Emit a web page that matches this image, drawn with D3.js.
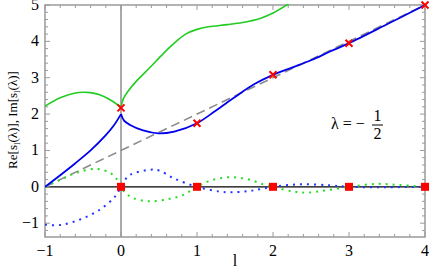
<!DOCTYPE html>
<html>
<head>
<meta charset="utf-8">
<script src="https://cdn.jsdelivr.net/npm/d3@7"></script>
<style>
  body { margin: 0; background: #fff; }
  svg, svg text, svg tspan { font-family: 'Liberation Serif', 'DejaVu Serif', serif; }
</style>
</head>
<body>
<div id="chart"></div>
<script>
// ---- data ----
var xTicks = [-1, 0, 1, 2, 3, 4];
var yTicks = [-1, 0, 1, 2, 3, 4, 5];

// Re, blue branch
var blueReLeftX = [-1, -0.8, -0.6, -0.4, -0.2, -0.1, 0];
var blueReLeftY = [0, 0.32, 0.65, 1.0, 1.42, 1.67, 2.0];
var blueReRightX = [0, 0.04, 0.12, 0.29, 0.49, 0.7, 1.0, 1.25, 1.5, 1.75, 2.0, 2.25, 2.5, 2.75, 3.0, 3.5, 4.0];
var blueReRightY = [2.0, 1.82, 1.70, 1.55, 1.47, 1.52, 1.75, 2.1, 2.47, 2.82, 3.08, 3.28, 3.48, 3.72, 3.95, 4.47, 5.0];

// Re, green branch
var greenReLeftX = [-1, -0.8, -0.6, -0.5, -0.4, -0.28, -0.1, 0];
var greenReLeftY = [2.22, 2.45, 2.58, 2.6, 2.59, 2.53, 2.34, 2.17];
var greenReRightX = [0, 0.03, 0.1, 0.2, 0.38, 0.55, 0.7, 0.85, 1.0, 1.15, 1.4, 1.6, 1.83, 2.0, 2.22];
var greenReRightY = [2.17, 2.42, 2.65, 2.9, 3.28, 3.65, 3.95, 4.2, 4.33, 4.4, 4.46, 4.52, 4.63, 4.78, 5.05];

// Im, blue branch (dotted)
var blueImX = [-1, -0.8, -0.54, -0.28, -0.08, 0, 0.05, 0.12, 0.38, 0.5, 0.69, 1, 1.3, 1.45, 1.7, 2, 2.36, 2.75, 3, 3.5, 4];
var blueImY = [-1.04, -1.05, -0.9, -0.63, -0.27, 0, 0.18, 0.33, 0.47, 0.45, 0.24, 0, -0.13, -0.15, -0.11, 0, 0.07, 0.04, 0, -0.01, 0];

// Im, green branch (dotted)
var greenImX = [-1, -0.8, -0.58, -0.32, -0.14, -0.05, 0, 0.05, 0.15, 0.38, 0.64, 0.82, 1, 1.15, 1.39, 1.65, 1.87, 2, 2.27, 2.44, 2.66, 2.88, 3, 3.36, 3.67, 4];
var greenImY = [0, 0.19, 0.39, 0.49, 0.38, 0.2, 0, -0.15, -0.3, -0.4, -0.33, -0.22, 0, 0.15, 0.26, 0.22, 0.07, 0, -0.13, -0.16, -0.11, -0.04, 0, 0.08, 0.05, 0];

// reference line y = l + 1
var dashX = [-1, 4];
var dashY = [0, 5];

// markers
var crossX = [0, 1, 2, 3, 4];
var crossY = [2.17, 1.75, 3.08, 3.95, 5.0];
var squareX = [0, 1, 2, 3, 4];
var squareY = [0, 0, 0, 0, 0];

function zip(xs, ys) { return xs.map(function(x, i) { return [x, ys[i]]; }); }

////////////////////////////////// D3 //////////////////////////////////
function drawChart() {
  var width = 429, height = 270;
  var mLeft = 45, mRight = 425, mTop = 5, mBottom = 237;

  var svg = d3.select('#chart').append('svg')
    .attr('width', width)
    .attr('height', height);

  var x = d3.scaleLinear().domain([-1, 4]).range([mLeft, mRight]);
  var y = d3.scaleLinear().domain([-1.38, 5]).range([mBottom, mTop]);

  svg.append('clipPath').attr('id', 'clip')
    .append('rect')
    .attr('x', mLeft).attr('y', mTop - 1)
    .attr('width', mRight - mLeft).attr('height', mBottom - mTop + 1);

  var frameColor = '#9a9a9a';

  // axes through origin
  svg.append('line')
    .attr('x1', x(0)).attr('x2', x(0))
    .attr('y1', mTop).attr('y2', mBottom)
    .attr('stroke', '#555').attr('stroke-width', 1);
  svg.append('line')
    .attr('x1', mLeft).attr('x2', mRight)
    .attr('y1', y(0)).attr('y2', y(0))
    .attr('stroke', '#000').attr('stroke-width', 1.2);

  // frame ticks (inward, major + minor)
  var minorX = d3.range(-1, 4.001, 0.2);
  var minorY = d3.range(-1.2, 5.001, 0.2);
  function isMajor(v) { return Math.abs(v - Math.round(v)) < 1e-6; }

  var tg = svg.append('g').attr('stroke', frameColor).attr('stroke-width', 1);
  minorX.forEach(function(v) {
    var len = isMajor(v) ? 5 : 3;
    tg.append('line').attr('x1', x(v)).attr('x2', x(v)).attr('y1', mBottom).attr('y2', mBottom - len);
    tg.append('line').attr('x1', x(v)).attr('x2', x(v)).attr('y1', mTop).attr('y2', mTop + len);
  });
  minorY.forEach(function(v) {
    var len = isMajor(v) ? 5 : 3;
    tg.append('line').attr('y1', y(v)).attr('y2', y(v)).attr('x1', mLeft).attr('x2', mLeft + len);
    tg.append('line').attr('y1', y(v)).attr('y2', y(v)).attr('x1', mRight).attr('x2', mRight - len);
  });

  svg.append('rect')
    .attr('x', mLeft).attr('y', mTop)
    .attr('width', mRight - mLeft).attr('height', mBottom - mTop)
    .attr('fill', 'none')
    .attr('stroke', frameColor).attr('stroke-width', 1.5);

  // tick labels
  svg.selectAll('.xl').data(xTicks).enter().append('text')
    .attr('class', 'xl')
    .attr('x', function(d) { return x(d); })
    .attr('y', 256)
    .attr('text-anchor', 'middle')
    .attr('font-size', 16)
    .text(function(d) { return d < 0 ? '\u2212' + Math.abs(d) : d; });

  svg.selectAll('.yl').data(yTicks).enter().append('text')
    .attr('class', 'yl')
    .attr('x', 39)
    .attr('y', function(d) { return y(d) + 5; })
    .attr('text-anchor', 'end')
    .attr('font-size', 16)
    .text(function(d) { return d < 0 ? '\u2212' + Math.abs(d) : d; });

  // axis labels
  svg.append('text')
    .attr('x', 235).attr('y', 266)
    .attr('text-anchor', 'middle')
    .attr('font-size', 16)
    .text('l');

  var yl = svg.append('text')
    .attr('transform', 'translate(17,120) rotate(-90)')
    .attr('text-anchor', 'middle')
    .attr('font-size', 13);
  yl.append('tspan').text('Re[s');
  yl.append('tspan').attr('font-size', 9).attr('dy', 3).text('l');
  yl.append('tspan').attr('dy', -3).text('(\u03bb)], Im[s');
  yl.append('tspan').attr('font-size', 9).attr('dy', 3).text('l');
  yl.append('tspan').attr('dy', -3).text('(\u03bb)]');

  // curves
  var plot = svg.append('g').attr('clip-path', 'url(#clip)');
  var line = d3.line()
    .x(function(d) { return x(d[0]); })
    .y(function(d) { return y(d[1]); })
    .curve(d3.curveCatmullRom.alpha(0.5));

  plot.append('path').datum(zip(dashX, dashY))
    .attr('d', line).attr('fill', 'none')
    .attr('stroke', '#8c8c8c').attr('stroke-width', 1.6)
    .attr('stroke-dasharray', '9,5');

  plot.append('path').datum(zip(blueImX, blueImY))
    .attr('d', line).attr('fill', 'none')
    .attr('stroke', '#2233ff').attr('stroke-width', 2)
    .attr('stroke-dasharray', '2,5');

  plot.append('path').datum(zip(greenImX, greenImY))
    .attr('d', line).attr('fill', 'none')
    .attr('stroke', '#22dd22').attr('stroke-width', 2)
    .attr('stroke-dasharray', '2,5');

  [[greenReLeftX, greenReLeftY], [greenReRightX, greenReRightY]].forEach(function(s) {
    plot.append('path').datum(zip(s[0], s[1]))
      .attr('d', line).attr('fill', 'none')
      .attr('stroke', '#22cc22').attr('stroke-width', 1.6);
  });
  [[blueReLeftX, blueReLeftY], [blueReRightX, blueReRightY]].forEach(function(s) {
    plot.append('path').datum(zip(s[0], s[1]))
      .attr('d', line).attr('fill', 'none')
      .attr('stroke', '#0000ee').attr('stroke-width', 1.8);
  });

  // markers
  svg.selectAll('.sq').data(zip(squareX, squareY)).enter().append('rect')
    .attr('class', 'sq')
    .attr('x', function(d) { return x(d[0]) - 4; })
    .attr('y', function(d) { return y(d[1]) - 4; })
    .attr('width', 8).attr('height', 8)
    .attr('fill', '#ff0000');

  svg.selectAll('.cr').data(zip(crossX, crossY)).enter().append('path')
    .attr('class', 'cr')
    .attr('d', function(d) {
      var cx = x(d[0]), cy = y(d[1]), r = 3.5;
      return 'M' + (cx - r) + ',' + (cy - r) + 'L' + (cx + r) + ',' + (cy + r) +
        'M' + (cx - r) + ',' + (cy + r) + 'L' + (cx + r) + ',' + (cy - r);
    })
    .attr('stroke', '#ff0000').attr('stroke-width', 2);

  // lambda label
  var lg = svg.append('g').attr('font-size', 16);
  lg.append('text').attr('x', 331).attr('y', 129).text('\u03bb = \u2212');
  lg.append('line').attr('x1', 372).attr('x2', 383).attr('y1', 125).attr('y2', 125)
    .attr('stroke', '#000').attr('stroke-width', 1);
  lg.append('text').attr('x', 377.5).attr('y', 121).attr('text-anchor', 'middle').text('1');
  lg.append('text').attr('x', 377.5).attr('y', 139).attr('text-anchor', 'middle').text('2');
}

drawChart();
////////////////////////////////// D3 - END //////////////////////////////////
</script>
</body>
</html>
